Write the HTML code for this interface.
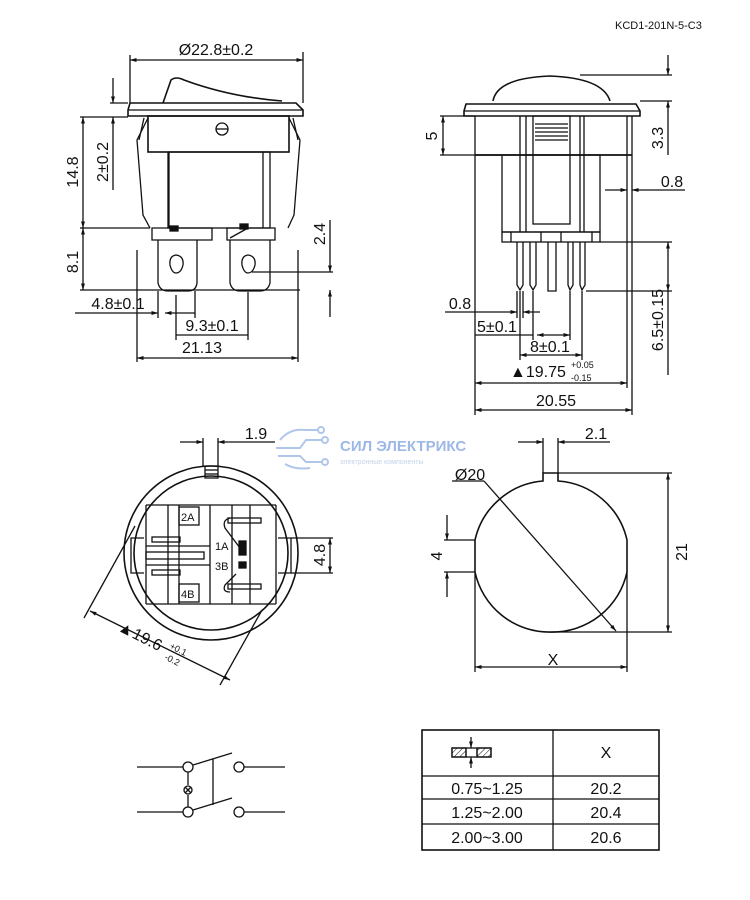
<!DOCTYPE html>
<html><head><meta charset="utf-8"><style>
html,body{margin:0;padding:0;background:#fff;}
svg{display:block;}
text{font-family:"Liberation Sans",Arial,sans-serif;fill:#111;}
</style></head><body>
<svg width="750" height="900" viewBox="0 0 750 900" xmlns="http://www.w3.org/2000/svg">
<defs>
<marker id="a" viewBox="0 0 10 10" refX="10" refY="5" markerWidth="7" markerHeight="5" orient="auto-start-reverse"><path d="M0,2 L10,5 L0,8 z" fill="#111"/></marker>
<pattern id="h" width="4" height="4" patternUnits="userSpaceOnUse" patternTransform="rotate(45)"><line x1="0" y1="0" x2="0" y2="4" stroke="#111" stroke-width="1"/></pattern>
</defs>
<text x="615" y="29" font-size="11">KCD1-201N-5-C3</text>

<g fill="none" stroke="#111" stroke-width="1.3">
<!-- ===== View 1 ===== -->
<path d="M163,103 L171,80 Q176,76 184,80 Q230,97 282,101" stroke-width="1.6"/>
<path d="M130,103 L296,103 L303,110 L303,116 L128,116 L128,110 Z" stroke-width="1.6"/>
<line x1="128" y1="110" x2="303" y2="110"/>
<rect x="148" y="116" width="141" height="36" stroke-width="1.6"/>
<circle cx="222" cy="129" r="6"/><line x1="216" y1="129" x2="228" y2="129"/>
<rect x="168" y="152" width="102" height="76"/>
<line x1="169" y1="152" x2="169" y2="228"/><line x1="263" y1="152" x2="263" y2="228"/>
<path d="M148,118 L137,140 L143,215 L150,228"/><path d="M144,118 L139,140"/>
<path d="M289,118 L300,140 L294,215 L288,228"/><path d="M293,118 L298,140"/>
<path d="M152,240 L152,228 L212,228 L212,240 Z"/>
<path d="M227,240 L227,228 L275,228 L275,240 Z"/>
<rect x="170" y="226" width="8" height="5" fill="#111"/>
<rect x="240" y="224" width="8" height="5" fill="#111"/>
<path d="M230,238 L248,228"/>
<path d="M158,240 L158,283 Q160,291 168,291 L188,291 Q196,291 197,283 L197,240"/>
<path d="M230,240 L230,283 Q232,291 240,291 L260,291 Q268,291 270,283 L270,240"/>
<path d="M176,255 Q169,256 170,265 Q172,273 176,273 Q181,273 183,265 Q184,256 176,255 Z"/>
<path d="M248,255 Q241,256 242,265 Q244,273 248,273 Q253,273 255,265 Q256,256 248,255 Z"/>
<line x1="130" y1="55" x2="130" y2="103"/><line x1="303" y1="52" x2="303" y2="103"/>
<line x1="130" y1="60" x2="303" y2="60" marker-start="url(#a)" marker-end="url(#a)"/>
<line x1="80" y1="117" x2="128" y2="117"/><line x1="110" y1="103" x2="128" y2="103"/>
<line x1="80" y1="228" x2="150" y2="228"/><line x1="80" y1="290" x2="300" y2="290"/>
<line x1="83" y1="117" x2="83" y2="228" marker-start="url(#a)" marker-end="url(#a)"/>
<line x1="83" y1="228" x2="83" y2="290" marker-start="url(#a)" marker-end="url(#a)"/>
<line x1="113" y1="78" x2="113" y2="103" marker-end="url(#a)"/>
<line x1="113" y1="117" x2="113" y2="190" marker-start="url(#a)"/>
<line x1="252" y1="272" x2="333" y2="272"/>
<line x1="330" y1="220" x2="330" y2="272" marker-end="url(#a)"/>
<line x1="330" y1="290" x2="330" y2="317" marker-start="url(#a)"/>
<line x1="158" y1="291" x2="158" y2="318"/><line x1="195" y1="291" x2="195" y2="318"/>
<line x1="75" y1="313" x2="158" y2="313" marker-end="url(#a)"/>
<line x1="195" y1="313" x2="165" y2="313" marker-end="url(#a)"/>
<line x1="176" y1="295" x2="176" y2="340"/><line x1="248" y1="292" x2="248" y2="340"/>
<line x1="176" y1="335" x2="248" y2="335"/>
<line x1="137" y1="250" x2="137" y2="362"/><line x1="298" y1="250" x2="298" y2="362"/>
<line x1="137" y1="358" x2="298" y2="358" marker-start="url(#a)" marker-end="url(#a)"/>

<!-- ===== View 2 ===== -->
<path d="M493,101 Q497,78 550,76 Q603,78 610,101" stroke-width="1.6"/>
<path d="M466,104 L636,104 L640,111 L640,116 L464,116 L464,111 Z" stroke-width="1.6"/>
<line x1="464" y1="111" x2="640" y2="111"/>
<line x1="475" y1="116" x2="475" y2="415"/>
<line x1="475" y1="155" x2="632" y2="155" stroke-width="1.8"/>
<line x1="627" y1="116" x2="627" y2="155"/><line x1="632" y1="116" x2="632" y2="415"/>
<line x1="520" y1="116" x2="520" y2="232"/><line x1="526" y1="116" x2="526" y2="232"/>
<line x1="580" y1="116" x2="580" y2="232"/><line x1="584" y1="116" x2="584" y2="232"/>
<rect x="533" y="116" width="37" height="108"/>
<line x1="535" y1="124" x2="568" y2="124"/><line x1="535" y1="128" x2="568" y2="128"/>
<line x1="535" y1="132" x2="568" y2="132"/><line x1="535" y1="136" x2="568" y2="136"/><line x1="535" y1="140" x2="568" y2="140"/>
<rect x="502" y="155" width="98" height="77"/>
<rect x="502" y="232" width="98" height="10"/>
<line x1="511" y1="232" x2="511" y2="242"/><line x1="541" y1="232" x2="541" y2="242"/>
<line x1="561" y1="232" x2="561" y2="242"/><line x1="592" y1="232" x2="592" y2="242"/>
<path d="M517,242 L517,285 L520,290 L523,285 L523,242"/>
<path d="M530,242 L530,285 L533,290 L536,285 L536,242"/>
<path d="M548,242 L548,291 L556,291 L556,242"/>
<path d="M568,242 L568,285 L570,290 L573,285 L573,242"/>
<path d="M580,242 L580,285 L582,290 L585,285 L585,242"/>
<line x1="440" y1="116" x2="475" y2="116"/><line x1="440" y1="155" x2="502" y2="155"/>
<line x1="443" y1="116" x2="443" y2="155" marker-start="url(#a)" marker-end="url(#a)"/>
<line x1="580" y1="75" x2="672" y2="75"/><line x1="640" y1="101" x2="672" y2="101"/>
<line x1="668" y1="55" x2="668" y2="75" marker-end="url(#a)"/>
<line x1="668" y1="101" x2="668" y2="155" marker-start="url(#a)"/>
<line x1="605" y1="190" x2="627" y2="190" marker-end="url(#a)"/>
<line x1="685" y1="190" x2="632" y2="190" marker-end="url(#a)"/>
<line x1="600" y1="242" x2="672" y2="242"/><line x1="586" y1="291" x2="672" y2="291"/>
<line x1="668" y1="242" x2="668" y2="291" marker-start="url(#a)" marker-end="url(#a)"/>
<line x1="668" y1="291" x2="668" y2="375"/>
<line x1="517" y1="291" x2="517" y2="318"/><line x1="523" y1="291" x2="523" y2="318"/>
<line x1="445" y1="312" x2="517" y2="312" marker-end="url(#a)"/>
<line x1="540" y1="312" x2="523" y2="312" marker-end="url(#a)"/>
<line x1="475" y1="335" x2="533" y2="335"/><line x1="533" y1="291" x2="533" y2="340"/>
<line x1="570" y1="291" x2="570" y2="340"/>
<line x1="537" y1="335" x2="570" y2="335" marker-start="url(#a)" marker-end="url(#a)"/>
<line x1="520" y1="291" x2="520" y2="360"/><line x1="582" y1="291" x2="582" y2="360"/>
<line x1="520" y1="355" x2="582" y2="355" marker-start="url(#a)" marker-end="url(#a)"/>
<line x1="475" y1="383" x2="627" y2="383" marker-start="url(#a)" marker-end="url(#a)"/>
<line x1="627" y1="155" x2="627" y2="388"/>
<line x1="475" y1="410" x2="632" y2="410" marker-start="url(#a)" marker-end="url(#a)"/>

<!-- ===== View 3 ===== -->
<circle cx="211" cy="553" r="87" stroke-width="1.6"/>
<circle cx="211" cy="553" r="77" stroke-width="1.6"/>
<rect x="205" y="466" width="13" height="12"/>
<line x1="205" y1="470" x2="218" y2="470"/><line x1="205" y1="474" x2="218" y2="474"/>
<path d="M144,538 L131,538 L131,573 L144,573"/><path d="M278,538 L291,538 L291,573 L278,573"/>
<path d="M146,505 L146,604 M146,505 L276,505 M146,604 L276,604 M276,505 L276,604" />
<line x1="168" y1="505" x2="168" y2="604"/><line x1="179" y1="505" x2="179" y2="604"/>
<line x1="210" y1="505" x2="210" y2="604"/><line x1="232" y1="505" x2="232" y2="604"/>
<line x1="250" y1="505" x2="250" y2="604"/>
<rect x="179" y="507" width="20" height="18"/><rect x="179" y="584" width="20" height="18"/>
<rect x="152" y="537" width="28" height="5"/><rect x="146" y="552" width="58" height="7"/>
<rect x="152" y="570" width="28" height="5"/>
<rect x="228" y="518" width="33" height="5"/><rect x="228" y="584" width="33" height="5"/>
<path d="M240,548 L225,528 Q222,520 230,518"/><path d="M236,574 L225,585 Q222,592 230,592"/>
<rect x="239" y="541" width="7" height="14" fill="#111"/><rect x="239" y="562" width="7" height="6" fill="#111"/>
<line x1="146" y1="546" x2="210" y2="546"/><line x1="146" y1="565" x2="210" y2="565"/>
<line x1="203" y1="438" x2="203" y2="466"/><line x1="218" y1="438" x2="218" y2="466"/>
<line x1="180" y1="442" x2="203" y2="442" marker-end="url(#a)"/>
<line x1="275" y1="442" x2="218" y2="442" marker-end="url(#a)"/>
<line x1="291" y1="538" x2="333" y2="538"/><line x1="291" y1="573" x2="333" y2="573"/>
<line x1="330" y1="538" x2="330" y2="573" marker-start="url(#a)" marker-end="url(#a)"/>
<line x1="135" y1="526" x2="84" y2="618"/>
<line x1="262" y1="610" x2="220" y2="685"/>
<line x1="90" y1="611" x2="230" y2="680" marker-start="url(#a)" marker-end="url(#a)"/>

<!-- ===== View 4 ===== -->
<path d="M475,540 A76,76 0 0 1 543,481 L543,473 L558,473 L558,481 A76,76 0 0 1 627,540 L627,572 A76,76 0 0 1 551,632 A76,76 0 0 1 475,572 Z" stroke-width="1.6"/>
<line x1="543" y1="438" x2="543" y2="473"/><line x1="558" y1="438" x2="558" y2="473"/>
<line x1="518" y1="442" x2="543" y2="442" marker-end="url(#a)"/>
<line x1="610" y1="442" x2="558" y2="442" marker-end="url(#a)"/>
<line x1="452" y1="481" x2="484" y2="481"/>
<line x1="484" y1="481" x2="616" y2="631" marker-end="url(#a)"/>
<line x1="558" y1="473" x2="672" y2="473"/><line x1="550" y1="632" x2="672" y2="632"/>
<line x1="668" y1="473" x2="668" y2="632" marker-start="url(#a)" marker-end="url(#a)"/>
<line x1="444" y1="540" x2="475" y2="540"/><line x1="444" y1="572" x2="475" y2="572"/>
<line x1="447" y1="515" x2="447" y2="540" marker-end="url(#a)"/>
<line x1="447" y1="597" x2="447" y2="572" marker-end="url(#a)"/>
<line x1="475" y1="572" x2="475" y2="672"/><line x1="627" y1="572" x2="627" y2="672"/>
<line x1="475" y1="667" x2="627" y2="667" marker-start="url(#a)" marker-end="url(#a)"/>

<!-- ===== schematic ===== -->
<line x1="137" y1="767" x2="183" y2="767"/><line x1="137" y1="812" x2="183" y2="812"/>
<circle cx="188" cy="767" r="5"/><circle cx="188" cy="812" r="5"/>
<line x1="188" y1="772" x2="188" y2="785"/><line x1="188" y1="795" x2="188" y2="807"/>
<circle cx="188" cy="790" r="4"/><path d="M185,787 L191,793 M191,787 L185,793"/>
<line x1="193" y1="765" x2="232" y2="753"/><line x1="193" y1="810" x2="232" y2="798"/>
<line x1="213" y1="759" x2="213" y2="805"/>
<circle cx="239" cy="767" r="5"/><circle cx="239" cy="812" r="5"/>
<line x1="244" y1="767" x2="285" y2="767"/><line x1="244" y1="812" x2="285" y2="812"/>

<!-- ===== table ===== -->
<rect x="422" y="730" width="237" height="120" stroke-width="1.6"/>
<line x1="553" y1="730" x2="553" y2="850"/>
<line x1="422" y1="776" x2="659" y2="776"/><line x1="422" y1="799" x2="659" y2="799"/><line x1="422" y1="824" x2="659" y2="824"/>
<rect x="452" y="748" width="39" height="9"/>
<rect x="452" y="748" width="14" height="9" fill="url(#h)"/><rect x="477" y="748" width="14" height="9" fill="url(#h)"/>
<line x1="466" y1="748" x2="466" y2="757"/><line x1="477" y1="748" x2="477" y2="757"/>
<line x1="471" y1="737" x2="471" y2="748" marker-end="url(#a)"/>
<line x1="471" y1="768" x2="471" y2="757" marker-end="url(#a)"/>
</g>

<g font-size="16">
<text x="216" y="55" text-anchor="middle">Ø22.8±0.2</text>
<text transform="translate(78,172) rotate(-90)" text-anchor="middle">14.8</text>
<text transform="translate(108,162) rotate(-90)" text-anchor="middle">2±0.2</text>
<text transform="translate(78,262) rotate(-90)" text-anchor="middle">8.1</text>
<text transform="translate(325,234) rotate(-90)" text-anchor="middle">2.4</text>
<text x="118" y="309" text-anchor="middle">4.8±0.1</text>
<text x="212" y="331" text-anchor="middle">9.3±0.1</text>
<text x="202" y="353" text-anchor="middle">21.13</text>
<text transform="translate(437,136) rotate(-90)" text-anchor="middle">5</text>
<text transform="translate(663,138) rotate(-90)" text-anchor="middle">3.3</text>
<text x="672" y="187" text-anchor="middle">0.8</text>
<text transform="translate(663,320) rotate(-90)" text-anchor="middle">6.5±0.15</text>
<text x="460" y="309" text-anchor="middle">0.8</text>
<text x="497" y="332" text-anchor="middle">5±0.1</text>
<text x="550" y="352" text-anchor="middle">8±0.1</text>
<text x="510" y="377">▲19.75</text>
<text x="556" y="406" text-anchor="middle">20.55</text>
<text x="256" y="439" text-anchor="middle">1.9</text>
<text transform="translate(325,555) rotate(-90)" text-anchor="middle">4.8</text>
<text transform="translate(117,630) rotate(27)">▲19.6</text>
<text x="596" y="439" text-anchor="middle">2.1</text>
<text x="470" y="480" text-anchor="middle">Ø20</text>
<text transform="translate(687,552) rotate(-90)" text-anchor="middle">21</text>
<text transform="translate(442,556) rotate(-90)" text-anchor="middle">4</text>
<text x="553" y="665" text-anchor="middle">X</text>
</g>
<text x="571" y="368" font-size="9">+0.05</text>
<text x="571" y="381" font-size="9">-0.15</text>
<text transform="translate(169,648) rotate(27)" font-size="9">+0.1</text>
<text transform="translate(164,659) rotate(27)" font-size="9">-0.2</text>
<text x="181" y="521" font-size="11">2A</text>
<text x="181" y="598" font-size="11">4B</text>
<text x="215" y="550" font-size="11">1A</text>
<text x="215" y="570" font-size="11">3B</text>
<g fill="none" stroke="#9db8e6" stroke-width="2" opacity="0.8">
<path d="M280,440 Q290,428 305,430 L318,430"/><circle cx="321" cy="430" r="3"/>
<path d="M276,448 L300,448 L306,440 L322,440"/><circle cx="325" cy="440" r="3"/>
<path d="M278,456 L300,456 L306,462 L322,462"/><circle cx="325" cy="462" r="3"/>
<path d="M285,464 Q295,470 310,468"/>
</g>
<text x="340" y="451" font-size="15" font-weight="bold" style="fill:#9db8e6">СИЛ ЭЛЕКТРИКС</text>
<text x="340" y="464" font-size="7" style="fill:#c5d3ea">электронные компоненты</text>
<text x="606" y="758" font-size="16" text-anchor="middle">X</text>
<text x="487" y="794" font-size="16" text-anchor="middle">0.75~1.25</text>
<text x="606" y="794" font-size="16" text-anchor="middle">20.2</text>
<text x="487" y="818" font-size="16" text-anchor="middle">1.25~2.00</text>
<text x="606" y="818" font-size="16" text-anchor="middle">20.4</text>
<text x="487" y="843" font-size="16" text-anchor="middle">2.00~3.00</text>
<text x="606" y="843" font-size="16" text-anchor="middle">20.6</text>
</svg>
</body></html>
